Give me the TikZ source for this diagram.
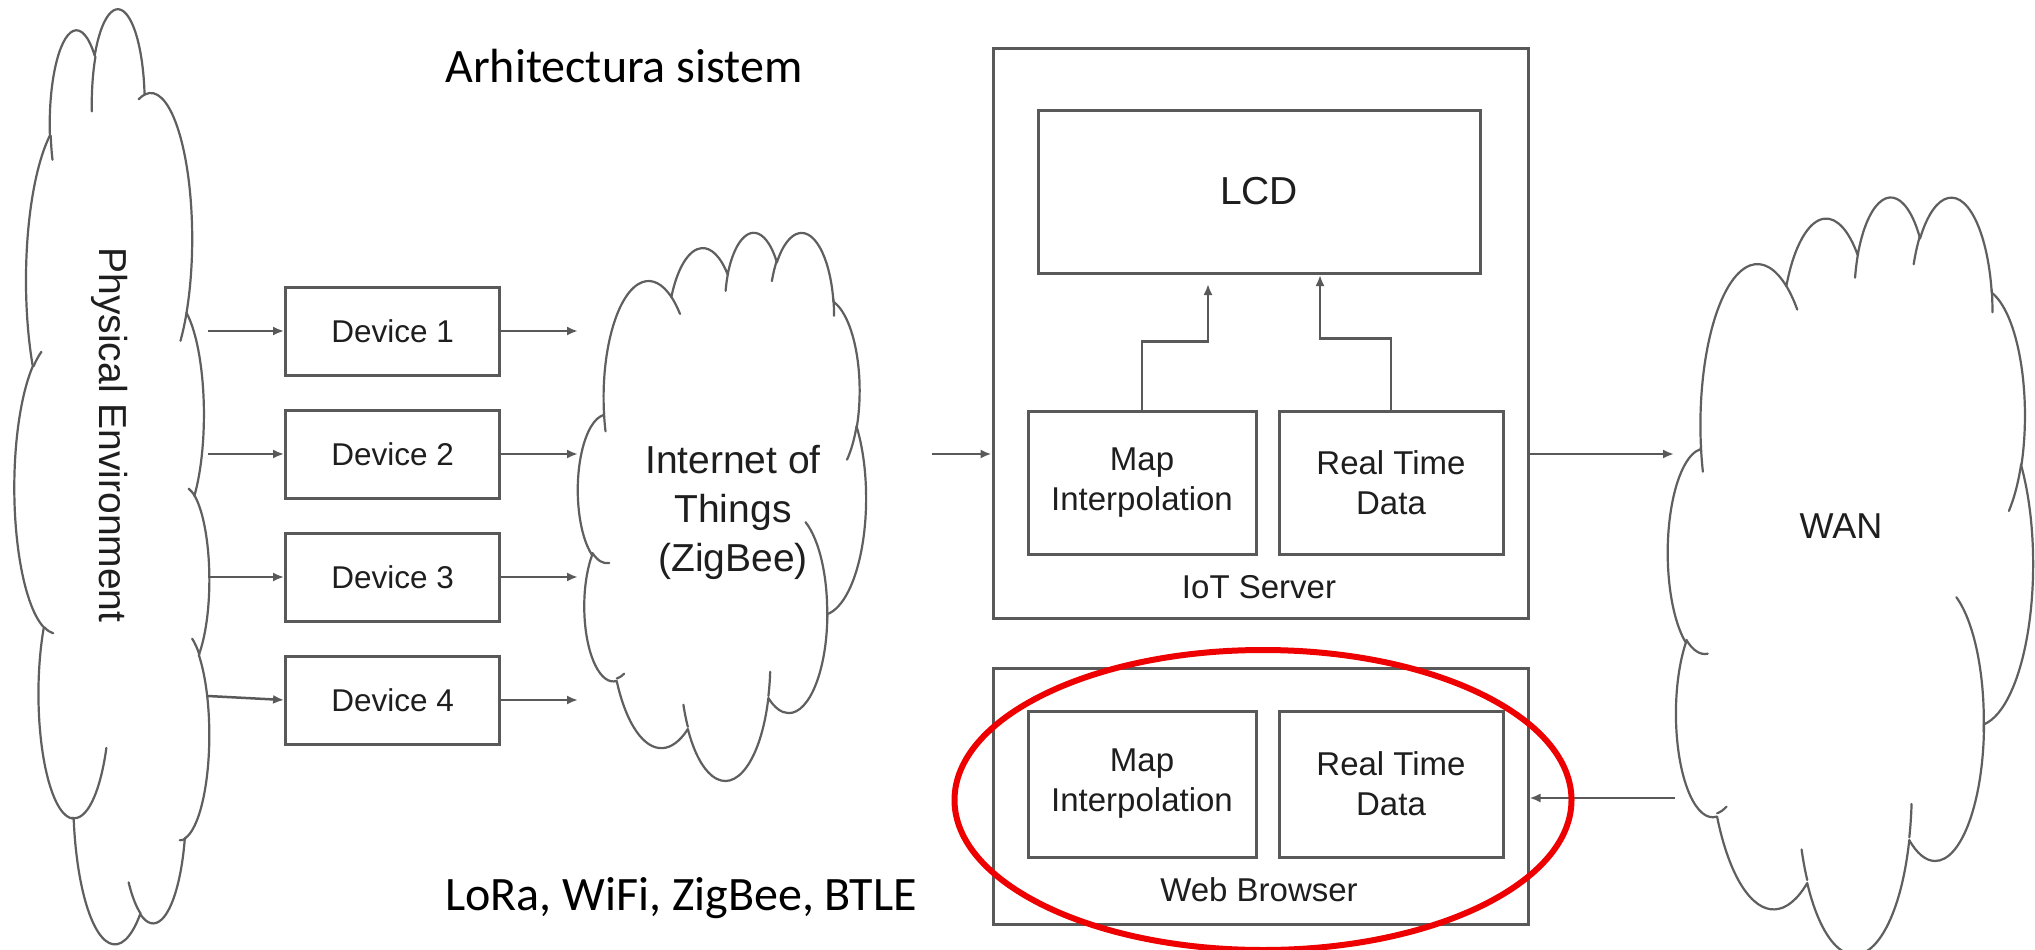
\documentclass[tikz,border=0pt]{standalone}
\usepackage{fontspec}
\setmainfont{Liberation Sans}
\newfontfamily\calibfont{Carlito}
\usetikzlibrary{arrows.meta,shapes.geometric}
\definecolor{linegray}{RGB}{89,89,89}
\definecolor{cloudgray}{RGB}{95,95,95}
\definecolor{textcol}{RGB}{30,30,30}
\definecolor{hlred}{RGB}{238,0,0}

% OOXML-style elliptical arc (visual angles -> parametric)
\newcommand\defarc[5]{%
  \pgfmathsetmacro\myaS{atan2((#2)*sin(#4),(#3)*cos(#4))}%
  \pgfmathsetmacro\myaE{atan2((#2)*sin((#4)+(#5)),(#3)*cos((#4)+(#5)))}%
  \pgfmathsetmacro\myaD{mod(\myaE-\myaS+720,360)}%
  \expandafter\xdef\csname #1\endcsname{arc[x radius=#2,y radius=#3,start angle=\myaS,delta angle=\myaD]}%
}
\defarc{clA}{675.3}{919.0}{-190.4875}{123.7805}
\defarc{clB}{533.3}{726.7}{-144.1024}{89.9452}
\defarc{clC}{436.5}{594.5}{-145.8079}{99.7230}
\defarc{clD}{485.7}{659.5}{-130.9861}{117.2417}
\defarc{clE}{533.3}{727.3}{-78.7089}{109.0269}
\defarc{clF}{677.5}{922.0}{-46.2673}{130.2690}
\defarc{clG}{578.5}{786.7}{0.6250}{114.0333}
\defarc{clH}{675.2}{921.5}{22.4516}{115.1726}
\defarc{clI}{772.0}{1054.3}{66.2426}{75.7110}
\defarc{clJ}{436.0}{591.8}{-274.9421}{146.7356}
\defarc{clK}{434.5}{594.5}{-246.8285}{152.5189}
\defarc{ctA}{434.5}{594.5}{86.742}{26.4295}
\defarc{ctB}{436.0}{591.8}{73.6105}{11.4475}
\defarc{ctC}{675.2}{921.5}{137.6242}{14.0811}
\defarc{ctD}{675.2}{921.5}{6.4533}{15.9984}
\defarc{ctE}{578.5}{786.7}{-70.2924}{76.4576}
\defarc{ctF}{533.3}{727.3}{30.318}{27.7515}
\defarc{ctG}{485.7}{659.5}{-13.7443}{14.8589}
\defarc{ctH}{485.7}{659.5}{-149.1815}{18.1954}
\defarc{ctI}{436.5}{594.5}{-163.4943}{17.6864}
\defarc{ctJ}{675.3}{919.0}{-66.7070}{12.3194}
\defarc{ctK}{675.3}{919.0}{157.6544}{11.8582}

\newcommand\drawcloud{%
  \draw[cloudline] (390,1437) \clA \clB \clC \clD \clE \clF \clG \clH \clI \clJ \clK -- cycle;
  \draw[cloudline] (469.3,2617.7) \ctA (692.8,3489.9) \ctB (1647.8,3909.0) \ctC
    (2882.7,3475.1) \ctD (3412.9,2295.4) \ctE (4179.8,1535.4) \ctF
    (3832.4,542.6) \ctG (2907.8,395.2) \ctH (2214.1,472.0) \ctI
    (1400.0,519.2) \ctJ (412.7,1578.9) \ctK;
}

\begin{document}
\begin{tikzpicture}[x=1pt,y=-1pt,
  cloudline/.style={draw=cloudgray, line width=2.2pt, line join=round, line cap=round},
  box/.style={draw=linegray, line width=3pt, inner sep=0pt, text=textcol, align=center},
  devbox/.style={box, minimum width=214pt, minimum height=88pt, font=\fontsize{31.5}{38}\selectfont},
  subbox/.style={box, minimum height=143pt, font=\fontsize{33}{40}\selectfont},
  lbl/.style={inner sep=0pt, text=textcol, align=center},
  arr/.style={draw=linegray, line width=2.5pt, -{Latex[length=11pt,width=9pt]}}]
\useasboundingbox (0,0) rectangle (2035,950);
\fill[white] (0,0) rectangle (2035,950);

% ---- clouds ----
\begin{scope}[shift={(210pt,-10pt)}, x={(0pt,-0.21620pt)}, y={(-0.04514pt,0pt)}]
  \drawcloud
\end{scope}
\begin{scope}[shift={(578pt,-231pt)}, x={(0.066667pt,0pt)}, y={(0pt,-0.126852pt)}]
  \drawcloud
\end{scope}
\begin{scope}[shift={(1668pt,-195pt)}, x={(0.084491pt,0pt)}, y={(0pt,-0.175231pt)}]
  \drawcloud
\end{scope}

\node[lbl, rotate=-90, font=\fontsize{39}{47}\selectfont] (penv) at (110,435) {Physical Environment};
\node[lbl, font=\fontsize{39}{49}\selectfont] (iot) at (733,512) {Internet of\\Things\\(ZigBee)};
\node[lbl, font=\fontsize{36}{43}\selectfont] (wan) at (1841,526) {WAN};

% ---- texts ----
\node[lbl, anchor=base, text=black, font=\calibfont\fontsize{48}{58}\selectfont] (title) at (624,83) {Arhitectura sistem};
\node[lbl, anchor=base, text=black, font=\calibfont\fontsize{48}{58}\selectfont] (tech) at (681,910) {LoRa, WiFi, ZigBee, BTLE};

% ---- devices ----
\node[devbox] (dev1) at (392.6,331) {Device 1};
\node[devbox] (dev2) at (392.6,454) {Device 2};
\node[devbox] (dev3) at (392.6,577) {Device 3};
\node[devbox] (dev4) at (392.6,700) {Device 4};

\coordinate (pe1) at (208,331);
\coordinate (pe2) at (208,454);
\coordinate (pe3) at (208,577);
\coordinate (pe4) at (208,696);
\coordinate (ie1) at (578,331);
\coordinate (ie2) at (578,454);
\coordinate (ie3) at (578,577);
\coordinate (ie4) at (578,700);

\draw[arr] (pe1) -- (dev1.west);
\draw[arr] (pe2) -- (dev2.west);
\draw[arr] (pe3) -- (dev3.west);
\draw[arr] (pe4) -- (dev4.west);
\draw[arr] (dev1.east) -- (ie1);
\draw[arr] (dev2.east) -- (ie2);
\draw[arr] (dev3.east) -- (ie3);
\draw[arr] (dev4.east) -- (ie4);

% ---- IoT server ----
\node[box, minimum width=535pt, minimum height=569pt] (server) at (1260.5,333.5) {};
\node[box, minimum width=442pt, minimum height=163pt, font=\fontsize{39}{47}\selectfont] (lcd) at (1259,191.5) {LCD};
\node[subbox, minimum width=228pt] (smap) at (1142,482.5) {Map\\Interpolation};
\node[subbox, minimum width=224pt] (srt) at (1391,482.5) {Real Time\\Data};
\node[lbl, font=\fontsize{33}{40}\selectfont] (srvlbl) at (1259,587) {IoT Server};

\coordinate (lcdin1) at (1208,284);
\coordinate (lcdin2) at (1320,275);
\draw[arr] (smap.north) -- ++(0,-68) -| (lcdin1);
\draw[arr] (srt.north) -- ++(0,-71) -| (lcdin2);

% ---- web browser ----
\node[box, minimum width=535pt, minimum height=256pt] (browser) at (1260.5,796) {};
\node[subbox, minimum width=228pt, minimum height=146pt] (bmap) at (1142,784) {Map\\Interpolation};
\node[subbox, minimum width=224pt, minimum height=146pt] (brt) at (1391,784) {Real Time\\Data};
\node[lbl, font=\fontsize{33}{40}\selectfont] (brlbl) at (1259,890) {Web Browser};

% ---- links ----
\coordinate (iotout) at (932,454);
\coordinate (wanin) at (1674,454);
\coordinate (wanout) at (1675,798);
\draw[arr] (iotout) -- (server.west |- iotout);
\draw[arr] (server.east |- wanin) -- (wanin);
\draw[arr] (wanout) -- (browser.east |- wanout);

% ---- highlight ----
\node[draw=hlred, line width=6pt, ellipse, inner sep=0pt, minimum width=617pt, minimum height=300pt] (hl) at (1263,800) {};
\end{tikzpicture}
\end{document}
